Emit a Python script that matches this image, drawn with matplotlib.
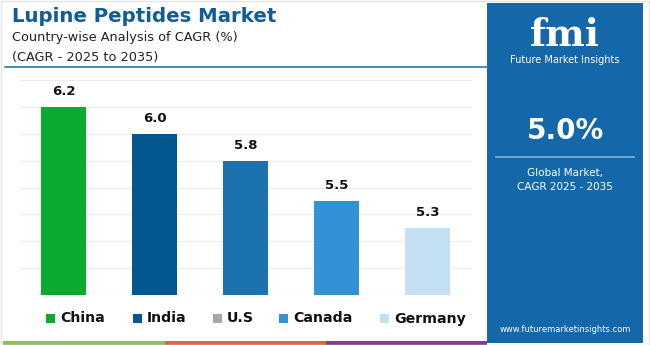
import matplotlib.pyplot as plt
from matplotlib.patches import Rectangle
from matplotlib.lines import Line2D
import numpy as np

countries = ["China", "India", "U.S", "Canada", "Germany"]
cagr = [6.2, 6.0, 5.8, 5.5, 5.3]
bar_colors = ["#0AAB2F", "#04578E", "#1B72AE", "#3193D4", "#C3E1F3"]
legend_colors = ["#0AAB2F", "#04578E", "#A6A6A6", "#3193D4", "#C3E1F3"]
global_cagr = "5.0%"

W, H = 650, 345
fig = plt.figure(figsize=(6.5, 3.45), dpi=100)
fig.patch.set_facecolor("white")

def fx(px):
    return px / W

def fy(py):
    return 1 - py / H

# bar chart area
ax = fig.add_axes([fx(20), fy(295), fx(452), 215 / H])
x = np.arange(len(countries))
ax.bar(x, cagr, width=0.5, color=bar_colors, zorder=3)
for xi, v in zip(x, cagr):
    ax.text(xi, v + 0.065, f"{v:.1f}", ha="center", va="bottom",
            fontsize=9.5, fontweight="bold", family="DejaVu Sans", color="#111111")
ax.set_ylim(4.8, 6.4)
ax.set_xlim(-0.48, 4.49)
ax.set_yticks(np.arange(4.8, 6.41, 0.2))
ax.grid(axis="y", color="#ECECEC", linewidth=0.8, zorder=0)
ax.tick_params(left=False, bottom=False, labelleft=False, labelbottom=False)
for s in ax.spines.values():
    s.set_visible(False)

# title block
fig.text(fx(12), fy(17), "Lupine Peptides Market", fontsize=14.2, fontweight="bold",
         color="#0F5C98", family="DejaVu Sans", va="center")
fig.text(fx(12), fy(38), "Country-wise Analysis of CAGR (%)", fontsize=9.3,
         color="#222222", family="DejaVu Sans", va="center")
fig.text(fx(12), fy(57), "(CAGR - 2025 to 2035)", fontsize=9.3,
         color="#222222", family="DejaVu Sans", va="center")
fig.add_artist(Line2D([fx(5), fx(487)], [fy(67), fy(67)], color="#2A74B0", linewidth=1.2))

# legend
leg_sq = [46, 133, 213, 279, 380]
for name, c, px in zip(countries, legend_colors, leg_sq):
    fig.add_artist(Rectangle((fx(px), fy(323)), fx(9), 9 / H, color=c, linewidth=0))
    fig.text(fx(px + 14), fy(318.5), name, fontsize=10.2, fontweight="bold",
             color="#111111", family="DejaVu Sans", va="center")

# bottom stripes
for x0, x1, c in [(3, 165, "#8DC05A"), (165, 326, "#E2663A"), (326, 487, "#8A3A8F")]:
    fig.add_artist(Rectangle((fx(x0), 0), fx(x1 - x0), 4 / H, color=c, linewidth=0))

# right panel
fig.add_artist(Rectangle((fx(487), fy(343)), fx(156), 340 / H, color="#1467A8", linewidth=0))
cx = fx(565)
fig.text(cx, fy(46), "fmi", fontsize=27, fontweight="bold", color="white",
         ha="center", va="baseline", family="DejaVu Serif")
fig.text(cx, fy(60), "Future Market Insights", fontsize=7, color="white",
         ha="center", va="center", family="DejaVu Sans")
fig.text(cx, fy(131), global_cagr, fontsize=20, fontweight="bold", color="white",
         ha="center", va="center", family="DejaVu Sans")
fig.add_artist(Line2D([fx(496), fx(634)], [fy(157), fy(157)], color="#7FB3DD", linewidth=1.2))
fig.text(cx, fy(173), "Global Market,", fontsize=7.5, color="white",
         ha="center", va="center", family="DejaVu Sans")
fig.text(cx, fy(187), "CAGR 2025 - 2035", fontsize=7.5, color="white",
         ha="center", va="center", family="DejaVu Sans")
fig.text(cx, fy(329), "www.futuremarketinsights.com", fontsize=6, color="white",
         ha="center", va="center", family="DejaVu Sans")

# thin outer border
fig.add_artist(Rectangle((0.001, 0.001), 0.998, 0.997, fill=False,
                         edgecolor="#E4E4E4", linewidth=1))

fig.savefig("out.png", dpi=100)
